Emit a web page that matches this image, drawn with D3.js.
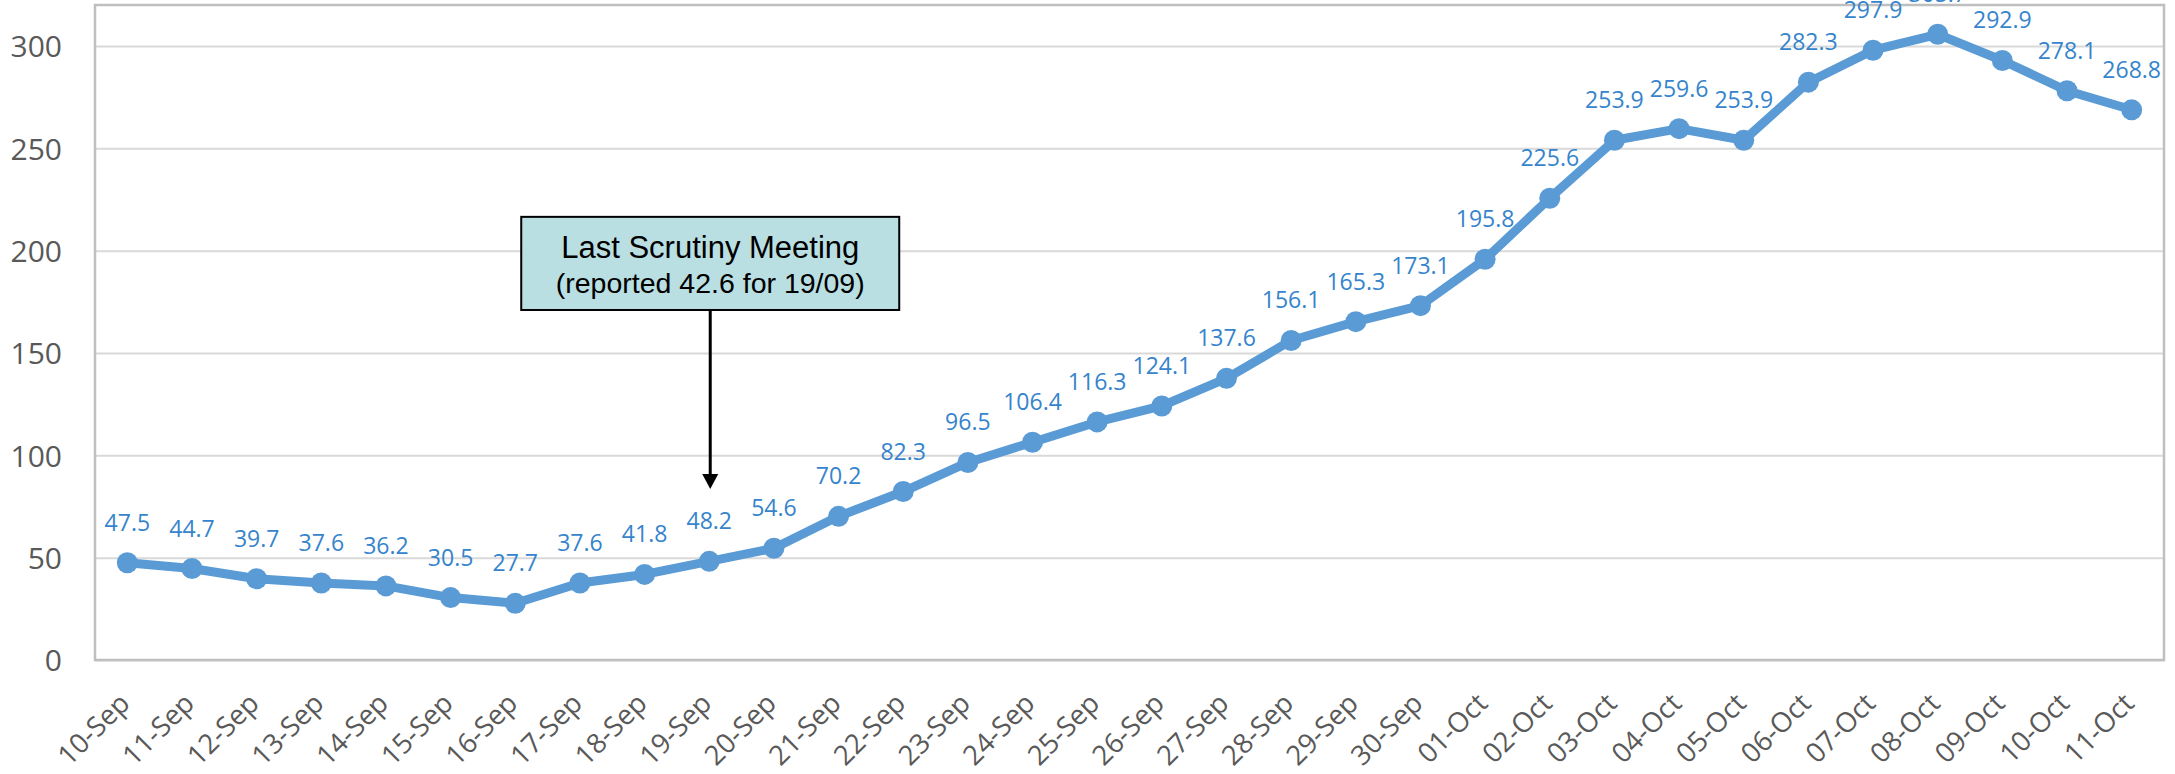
<!DOCTYPE html>
<html>
<head>
<meta charset="utf-8">
<script src="https://cdn.jsdelivr.net/npm/d3@7"></script>
<style>
  html, body { margin: 0; padding: 0; background: #fff; }
  svg { display: block; }
</style>
</head>
<body>
<svg id="chart" width="2175" height="774"></svg>
<script>
const categories = ["10-Sep","11-Sep","12-Sep","13-Sep","14-Sep","15-Sep","16-Sep","17-Sep","18-Sep","19-Sep","20-Sep","21-Sep","22-Sep","23-Sep","24-Sep","25-Sep","26-Sep","27-Sep","28-Sep","29-Sep","30-Sep","01-Oct","02-Oct","03-Oct","04-Oct","05-Oct","06-Oct","07-Oct","08-Oct","09-Oct","10-Oct","11-Oct"];
const values = [47.5,44.7,39.7,37.6,36.2,30.5,27.7,37.6,41.8,48.2,54.6,70.2,82.3,96.5,106.4,116.3,124.1,137.6,156.1,165.3,173.1,195.8,225.6,253.9,259.6,253.9,282.3,297.9,305.7,292.9,278.1,268.8];
const yTicks = [0,50,100,150,200,250,300];
const yMax = 320;
const annotationDate = "19-Sep";
const annotationLines = ["Last Scrutiny Meeting", "(reported 42.6 for 19/09)"];
const annotationBox = [171, 216.5];   // value range covered by the box (bottom, top)
const annotationArrowTip = 83.5;      // value the arrow points down to

(function () {
const svg = d3.select("#chart");
const mLeft = 95, mRight = 2164, mTop = 5, mBottom = 660;

const x = d3.scaleBand().domain(categories).range([mLeft, mRight]).padding(0);
const cx = d => x(d) + x.bandwidth() / 2;
const y = d3.scaleLinear().domain([0, yMax]).range([mBottom, mTop]);

// gridlines
svg.append("g")
  .attr("transform", `translate(${mLeft},0)`)
  .call(d3.axisLeft(y).tickValues(yTicks).tickSize(-(mRight - mLeft)).tickFormat(""))
  .call(g => g.select(".domain").remove())
  .call(g => g.selectAll("line").attr("stroke", "#D9D9D9").attr("stroke-width", 2));

// plot border
svg.append("rect")
  .attr("x", mLeft).attr("y", mTop)
  .attr("width", mRight - mLeft).attr("height", mBottom - mTop)
  .attr("fill", "none").attr("stroke", "#BFBFBF").attr("stroke-width", 2.5);

// y axis labels
svg.append("g")
  .attr("transform", `translate(${mLeft},0)`)
  .call(d3.axisLeft(y).tickValues(yTicks).tickSize(0).tickPadding(33))
  .call(g => g.select(".domain").remove())
  .call(g => g.selectAll("text")
    .attr("font-family", "'Open Sans', sans-serif")
    .attr("font-size", 30)
    .attr("fill", "#595959")
    .attr("dy", "0.36em"));

// x axis labels
svg.append("g")
  .attr("transform", `translate(0,${mBottom})`)
  .call(d3.axisBottom(x).tickSize(0))
  .call(g => g.select(".domain").remove())
  .call(g => g.selectAll("text")
    .attr("font-family", "'Open Sans', sans-serif")
    .attr("font-size", 27.5)
    .attr("fill", "#595959")
    .attr("x", 0).attr("y", 0).attr("dy", 0)
    .attr("text-anchor", "end")
    .attr("transform", "translate(4,45) rotate(-45)"));

// line
const line = d3.line().x((d, i) => cx(categories[i])).y(d => y(d));
svg.append("path")
  .datum(values)
  .attr("d", line)
  .attr("fill", "none")
  .attr("stroke", "#5B9BD5")
  .attr("stroke-width", 9)
  .attr("stroke-linejoin", "round");

// markers
svg.append("g").selectAll("circle")
  .data(values)
  .join("circle")
  .attr("cx", (d, i) => cx(categories[i]))
  .attr("cy", d => y(d))
  .attr("r", 10.5)
  .attr("fill", "#5B9BD5");

// data labels
svg.append("g").selectAll("text")
  .data(values)
  .join("text")
  .attr("x", (d, i) => cx(categories[i]))
  .attr("y", d => y(d) - 32)
  .attr("text-anchor", "middle")
  .attr("font-family", "'Open Sans', sans-serif")
  .attr("font-size", 23)
  .attr("fill", "#3584CC")
  .text(d => d.toFixed(1));

// annotation
const ax = cx(annotationDate) + 1;
const boxW = 378;
const boxTop = y(annotationBox[1]), boxBottom = y(annotationBox[0]);
const ann = svg.append("g");
const tipY = y(annotationArrowTip);
ann.append("line")
  .attr("x1", ax).attr("x2", ax)
  .attr("y1", boxBottom).attr("y2", tipY - 12)
  .attr("stroke", "#000").attr("stroke-width", 3);
ann.append("path")
  .attr("d", `M${ax - 8},${tipY - 15} L${ax + 8},${tipY - 15} L${ax},${tipY} Z`)
  .attr("fill", "#000");
ann.append("rect")
  .attr("x", ax - boxW / 2).attr("y", boxTop)
  .attr("width", boxW).attr("height", boxBottom - boxTop)
  .attr("fill", "#B9DFE3").attr("stroke", "#000").attr("stroke-width", 2);
ann.append("text")
  .attr("x", ax).attr("y", boxTop + 41)
  .attr("text-anchor", "middle")
  .attr("font-family", "'Liberation Sans', Arial, sans-serif")
  .attr("font-size", 31)
  .attr("fill", "#000")
  .text(annotationLines[0]);
ann.append("text")
  .attr("x", ax).attr("y", boxTop + 76)
  .attr("text-anchor", "middle")
  .attr("font-family", "'Liberation Sans', Arial, sans-serif")
  .attr("font-size", 28.5)
  .attr("fill", "#000")
  .text(annotationLines[1]);
})();
</script>
</body>
</html>
